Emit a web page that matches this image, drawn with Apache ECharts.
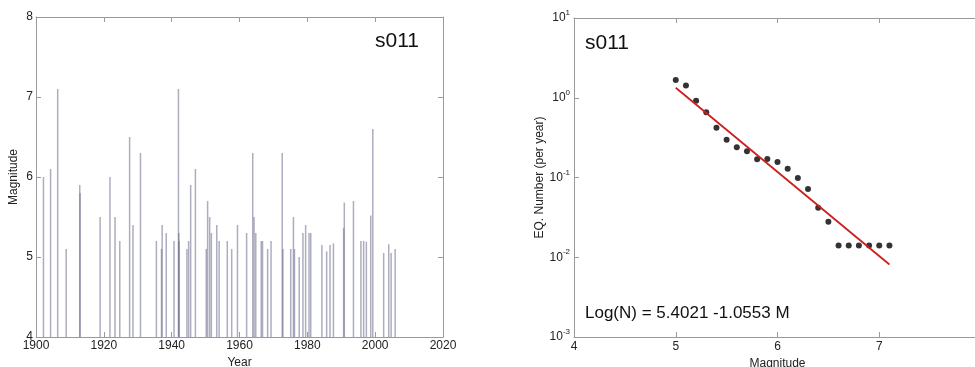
<!DOCTYPE html>
<html>
<head>
<meta charset="utf-8">
<script src="https://cdn.jsdelivr.net/npm/echarts@6/dist/echarts.min.js"></script>
<style>
  html, body { margin: 0; padding: 0; background: #fff; }
  #chartDiv { width: 975px; height: 367px; }
</style>
</head>
<body>
<div id="chartDiv"></div>
<script>
// left panel: events (year, magnitude) drawn as stems from M4
const eventYears = [
  1902.2, 1904.3, 1906.4, 1908.9, 1912.9, 1913.0, 1918.9, 1921.8, 1923.3, 1924.7,
  1927.6, 1928.6, 1930.8, 1935.5, 1937.0, 1937.2, 1938.4, 1940.7, 1942.0, 1942.1,
  1942.2, 1944.5, 1945.0, 1945.6, 1947.0, 1950.2, 1950.6, 1951.2, 1951.7, 1953.3,
  1954.0, 1956.4, 1957.7, 1959.4, 1962.1, 1963.9, 1964.3, 1964.8, 1966.4, 1966.8,
  1968.3, 1969.3, 1972.6, 1972.8, 1975.1, 1975.9, 1976.2, 1977.6, 1978.7, 1979.5,
  1980.5, 1981.0, 1984.3, 1985.7, 1986.7, 1987.7, 1990.7, 1990.9, 1993.6, 1995.8,
  1996.6, 1997.4, 1998.7, 1999.3, 2002.5, 2004.0, 2004.7, 2005.9
];
const eventMags = [
  6.0, 6.1, 7.1, 5.1, 5.9, 5.8, 5.5, 6.0, 5.5, 5.2,
  6.5, 5.4, 6.3, 5.2, 5.1, 5.4, 5.3, 5.2, 7.1, 5.3,
  5.2, 5.1, 5.2, 5.9, 6.1, 5.1, 5.7, 5.5, 5.3, 5.4,
  5.2, 5.2, 5.1, 5.4, 5.3, 6.3, 5.5, 5.3, 5.2, 5.2,
  5.1, 5.2, 6.3, 5.1, 5.1, 5.5, 5.1, 5.0, 5.3, 5.4,
  5.3, 5.3, 5.15, 5.07, 5.15, 5.17, 5.36, 5.68, 5.7, 5.2,
  5.2, 5.19, 5.52, 6.6, 5.05, 5.16, 5.05, 5.1
];

// right panel: cumulative rate per year vs magnitude
const grMags = [5.0, 5.1, 5.2, 5.3, 5.4, 5.5, 5.6, 5.7, 5.8, 5.9, 6.0,
  6.1, 6.2, 6.3, 6.4, 6.5, 6.6, 6.7, 6.8, 6.9, 7.0, 7.1];
const grRates = [1.67, 1.42, 0.92, 0.656, 0.42, 0.298, 0.239, 0.213, 0.169, 0.170, 0.156,
  0.129, 0.0986, 0.0718, 0.0418, 0.0279, 0.014, 0.014, 0.014, 0.014, 0.014, 0.014];
// fitted line end points
const fitMags = [5.0, 7.1];
const fitRates = [1.335, 0.0081];

const stationLabel = 's011';
const fitLabel = 'Log(N) = 5.4021 -1.0553 M';

const FONT = 'Liberation Sans, Arial, sans-serif';
const frameColor = '#9a9a9a';
const labelColor = '#222';

const chart = echarts.init(document.getElementById('chartDiv'), null, { renderer: 'canvas' });

const tickStyle = { inside: true, length: 5, lineStyle: { color: frameColor } };
const lineStyle = { lineStyle: { color: frameColor, width: 1 } };

const options = {
  animation: false,
  backgroundColor: '#fff',
  grid: [
    { left: 36, top: 17, width: 407, height: 320, outerBoundsMode: 'none' },
    { left: 574, top: 18, width: 407, height: 319, outerBoundsMode: 'none' }
  ],
  xAxis: [
    {
      gridIndex: 0, type: 'value', min: 1900, max: 2020, interval: 20,
      axisLine: lineStyle, axisTick: tickStyle, splitLine: { show: false },
      axisLabel: { color: labelColor, fontSize: 12, fontFamily: FONT, margin: 3, formatter: v => String(v) },
      name: 'Year', nameLocation: 'middle', nameGap: 13,
      nameTextStyle: { color: labelColor, fontSize: 12, fontFamily: FONT }
    },
    {
      gridIndex: 0, type: 'value', position: 'top', min: 1900, max: 2020, interval: 20,
      axisLine: lineStyle, axisTick: tickStyle, axisLabel: { show: false }, splitLine: { show: false }
    },
    {
      gridIndex: 1, type: 'value', min: 4, max: 8, interval: 1,
      axisLine: lineStyle, axisTick: tickStyle, splitLine: { show: false },
      axisLabel: { color: labelColor, fontSize: 12, fontFamily: FONT, margin: 4 },
      name: 'Magnitude', nameLocation: 'middle', nameGap: 19,
      nameTextStyle: { color: labelColor, fontSize: 12, fontFamily: FONT }
    },
    {
      gridIndex: 1, type: 'value', position: 'top', min: 4, max: 8, interval: 1,
      axisLine: lineStyle, axisTick: tickStyle, axisLabel: { show: false }, splitLine: { show: false }
    }
  ],
  yAxis: [
    {
      gridIndex: 0, type: 'value', min: 4, max: 8, interval: 1,
      axisLine: lineStyle, axisTick: tickStyle, splitLine: { show: false },
      axisLabel: { color: labelColor, fontSize: 12, fontFamily: FONT, margin: 3 },
      name: 'Magnitude', nameLocation: 'middle', nameGap: 16,
      nameTextStyle: { color: labelColor, fontSize: 12, fontFamily: FONT }
    },
    {
      gridIndex: 0, type: 'value', position: 'right', min: 4, max: 8, interval: 1,
      axisLine: lineStyle, axisTick: tickStyle, axisLabel: { show: false }, splitLine: { show: false }
    },
    {
      gridIndex: 1, type: 'log', logBase: 10, min: 0.001, max: 10,
      axisLine: lineStyle, axisTick: tickStyle, splitLine: { show: false },
      axisLabel: {
        color: labelColor, fontFamily: FONT, margin: 4,
        formatter: function (v) {
          const e = Math.round(Math.log10(v));
          return '{b|10}{s|' + e + '}';
        },
        rich: {
          b: { fontSize: 12, fontFamily: FONT, color: labelColor },
          s: { fontSize: 8, fontFamily: FONT, color: labelColor, padding: [0, 0, 10, 0] }
        }
      },
      name: 'EQ. Number (per year)', nameLocation: 'middle', nameGap: 26,
      nameTextStyle: { color: labelColor, fontSize: 12, fontFamily: FONT }
    },
    {
      gridIndex: 1, type: 'log', logBase: 10, position: 'right', min: 0.001, max: 10,
      axisLine: lineStyle, axisTick: tickStyle, axisLabel: { show: false }, splitLine: { show: false }
    }
  ],
  series: [
    {
      type: 'custom',
      xAxisIndex: 0, yAxisIndex: 0,
      data: eventYears.map((y, i) => [y, eventMags[i]]),
      renderItem: function (params, api) {
        const top = api.coord([api.value(0), api.value(1)]);
        const base = api.coord([api.value(0), 4]);
        return {
          type: 'line',
          shape: { x1: base[0], y1: base[1], x2: top[0], y2: top[1] },
          style: { stroke: 'rgba(105,105,140,0.55)', lineWidth: 1.5 }
        };
      }
    },
    {
      type: 'scatter',
      xAxisIndex: 2, yAxisIndex: 2,
      symbolSize: 6,
      itemStyle: { color: '#000' },
      data: grMags.map((m, i) => [m, grRates[i]]),
      z: 3
    },
    {
      type: 'line',
      xAxisIndex: 2, yAxisIndex: 2,
      showSymbol: false,
      lineStyle: { color: '#cc1f1f', width: 1.8 },
      data: fitMags.map((m, i) => [m, fitRates[i]]),
      z: 4
    }
  ],
  graphic: [
    {
      type: 'text', left: 375, top: 31,
      style: { text: stationLabel, font: '21px ' + FONT, fill: '#111' }
    },
    {
      type: 'text', left: 585, top: 33,
      style: { text: stationLabel, font: '21px ' + FONT, fill: '#111' }
    },
    {
      type: 'text', left: 585, top: 305,
      style: { text: fitLabel, font: '17px ' + FONT, fill: '#111' }
    }
  ]
};

chart.setOption(options);
</script>
</body>
</html>
